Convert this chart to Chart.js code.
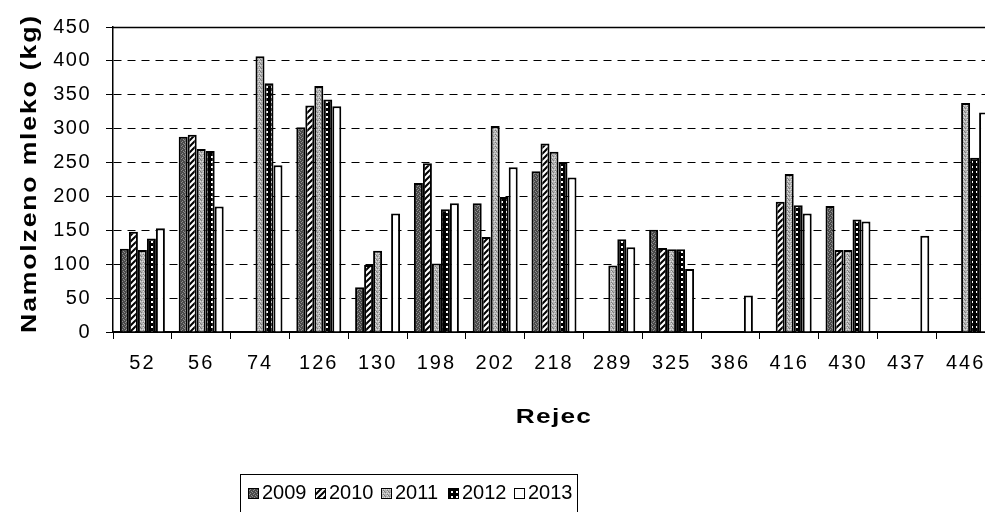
<!DOCTYPE html>
<html>
<head>
<meta charset="utf-8">
<script src="https://cdn.jsdelivr.net/npm/chart.js@4/dist/chart.umd.min.js"></script>
<style>
  html, body { margin: 0; padding: 0; background: #fff; overflow: hidden; }
  #wrap { width: 1010px; height: 512px; }
</style>
</head>
<body>
<div id="wrap"><canvas id="milk" width="1010" height="512"></canvas></div>
<script>
// Cow IDs (x axis categories)
const cows = ['52', '56', '74', '126', '130', '198', '202', '218', '289', '325', '386', '416', '430', '437', '446'];

// Milk yield per cow and year (kg); null = no record that year
const milk2009 = [123, 288, null, 302, 66, 220, 190, 237, null, 151, null, null, 186, null, null];
const milk2010 = [148, 291, null, 334, 99, 249, 140, 278, null, 124, null, 192, 121, null, null];
const milk2011 = [121, 270, 407, 363, 120, 101, 304, 266, 98, 122, null, 233, 121, null, 338];
const milk2012 = [138, 267, 367, 343, null, 181, 199, 251, 137, 122, null, 187, 166, null, 257];
const milk2013 = [153, 185, 246, 333, 175, 190, 243, 228, 125, 93, 54, 175, 163, 142, 324];

const years = ['2009', '2010', '2011', '2012', '2013'];
const yMin = 0, yMax = 450, yStep = 50;

const FONT = "'Liberation Sans', Arial, Helvetica, sans-serif";
const canvas = document.getElementById('milk');
const ctx = canvas.getContext('2d');

// ---- fill patterns (black & white print style) ----
function tile(w, h, paint) {
  const t = document.createElement('canvas');
  t.width = w; t.height = h;
  const g = t.getContext('2d');
  paint(g, w, h);
  return ctx.createPattern(t, 'repeat');
}
const darkStipple = tile(4, 4, (g) => {
  g.fillStyle = '#4a4a4a'; g.fillRect(0, 0, 4, 4);
  g.fillStyle = '#8e8e8e';
  [[0, 0], [2, 1], [1, 2], [3, 3]].forEach(([x, y]) => g.fillRect(x, y, 1, 1));
});
const hatch = tile(6, 6, (g) => {
  g.fillStyle = '#fff'; g.fillRect(0, 0, 6, 6);
  g.strokeStyle = '#000'; g.lineWidth = 2;
  [0, 6, 12].forEach((c) => { g.beginPath(); g.moveTo(-1, c + 1); g.lineTo(c + 1, -1); g.stroke(); });
});
const lightStipple = tile(4, 4, (g) => {
  g.fillStyle = '#b2b2b2'; g.fillRect(0, 0, 4, 4);
  g.fillStyle = '#7c7c7c';
  [[1, 0], [3, 2], [0, 3]].forEach(([x, y]) => g.fillRect(x, y, 1, 1));
  g.fillStyle = '#dcdcdc';
  [[2, 1], [0, 1], [3, 3]].forEach(([x, y]) => g.fillRect(x, y, 1, 1));
});
const dotted = tile(5, 5, (g) => {
  g.fillStyle = '#000'; g.fillRect(0, 0, 5, 5);
  g.fillStyle = '#fff'; g.fillRect(1, 1, 2, 2);
});
const fills = [darkStipple, hatch, lightStipple, dotted, '#ffffff'];
const series = [milk2009, milk2010, milk2011, milk2012, milk2013];

// ---- wide lettering for axis labels and titles ----
function spacedLabels(fn, spacing) {
  return function (...args) {
    const c = this.ctx;
    const prev = c.letterSpacing;
    c.letterSpacing = spacing;
    fn.apply(this, args);
    c.letterSpacing = prev;
  };
}
function stretchedTitle(fn, o) {
  return function (...args) {
    const c = this.ctx;
    c.save();
    c.letterSpacing = o.spacing;
    if (this.isHorizontal()) {
      const cx = (this.left + this.right) / 2;
      c.translate(cx, o.shift); c.scale(o.stretch, 1); c.translate(-cx, 0);
    } else {
      const cy = (this.top + this.bottom) / 2;
      c.translate(0, cy + o.shift); c.scale(1, o.stretch); c.translate(0, -cy);
    }
    fn.apply(this, args);
    c.restore();
  };
}
const axisText = {
  x: { labels: '2px', title: { spacing: '1px', stretch: 1.25, shift: 0 } },
  y: { labels: '1.5px', title: { spacing: '1.5px', stretch: 1.21, shift: -6 } }
};
const axisTextPlugin = {
  id: 'axisText',
  beforeDraw(chart) {
    Object.keys(axisText).forEach((id) => {
      const s = chart.scales[id];
      if (!s || s.__styled) return;
      const proto = Object.getPrototypeOf(s);
      s.drawLabels = spacedLabels(proto.drawLabels, axisText[id].labels);
      s.drawTitle = stretchedTitle(proto.drawTitle, axisText[id].title);
      s.__styled = true;
    });
  }
};

// solid frame line along the top of the value range
const topLinePlugin = {
  id: 'topLine',
  beforeDatasetsDraw(chart) {
    const { ctx: c, chartArea: a, scales: { y } } = chart;
    const py = Math.round(y.getPixelForValue(yMax)) + 0.5;
    c.save();
    c.strokeStyle = '#000';
    c.lineWidth = 1.5;
    c.beginPath();
    c.moveTo(a.left, py);
    c.lineTo(chart.width, py);
    c.stroke();
    c.restore();
  }
};

// boxed legend below the axis title
const legendBox = { left: 240, right: 577, top: 474, firstItem: 248, step: 66.5, boxSize: 11, boxTop: 488 };
const boxedLegendPlugin = {
  id: 'boxedLegend',
  afterDraw(chart) {
    const c = chart.ctx;
    const L = legendBox;
    c.save();
    c.font = '20px ' + FONT;
    c.textBaseline = 'alphabetic';
    chart.data.datasets.forEach((ds, i) => {
      const bx = Math.round(L.firstItem + i * L.step);
      c.fillStyle = ds.backgroundColor;
      c.fillRect(bx, L.boxTop, L.boxSize, L.boxSize);
      c.strokeStyle = '#000';
      c.lineWidth = 1;
      c.strokeRect(bx + 0.5, L.boxTop + 0.5, L.boxSize - 1, L.boxSize - 1);
      c.fillStyle = '#000';
      c.fillText(ds.label, bx + L.boxSize + 3, L.boxTop + L.boxSize);
    });
    c.strokeStyle = '#000';
    c.lineWidth = 1;
    c.strokeRect(L.left + 0.5, L.top + 0.5, L.right - L.left, 60);
    c.restore();
  }
};

new Chart(ctx, {
  type: 'bar',
  data: {
    labels: cows,
    datasets: years.map((yr, i) => ({
      label: yr,
      data: series[i],
      backgroundColor: fills[i],
      borderColor: '#000',
      borderWidth: 2,
      borderSkipped: 'start'
    }))
  },
  options: {
    responsive: false,
    animation: false,
    devicePixelRatio: 1,
    layout: { padding: { top: 27, right: 15, left: 0, bottom: 0 } },
    datasets: { bar: { categoryPercentage: 0.765, barPercentage: 1.0 } },
    plugins: { legend: { display: false }, tooltip: { enabled: false } },
    scales: {
      x: {
        grid: { offset: true, drawOnChartArea: false, tickLength: 7, tickColor: '#000', tickWidth: 1 },
        border: { color: '#000', width: 2 },
        ticks: { color: '#000', font: { family: FONT, size: 20 }, padding: 12, maxRotation: 0, autoSkip: false },
        title: {
          display: true, text: 'Rejec', color: '#000',
          font: { family: FONT, size: 21, weight: 'bold' },
          padding: { top: 0, bottom: 82 }
        },
        afterFit: (s) => { s.height = 180; }
      },
      y: {
        min: yMin, max: yMax,
        grid: { color: '#000', lineWidth: 1, tickLength: 7, tickColor: '#000', tickWidth: 1 },
        border: { color: '#000', width: 1.5, dash: [8, 6] },
        ticks: { stepSize: yStep, color: '#000', font: { family: FONT, size: 20 }, padding: 15 },
        title: {
          display: true, text: 'Namolzeno mleko (kg)', color: '#000',
          font: { family: FONT, size: 22, weight: 'bold' },
          padding: { top: 17, bottom: 0 }
        },
        afterFit: (s) => { s.width = 113; }
      }
    }
  },
  plugins: [axisTextPlugin, topLinePlugin, boxedLegendPlugin]
});
</script>
</body>
</html>
